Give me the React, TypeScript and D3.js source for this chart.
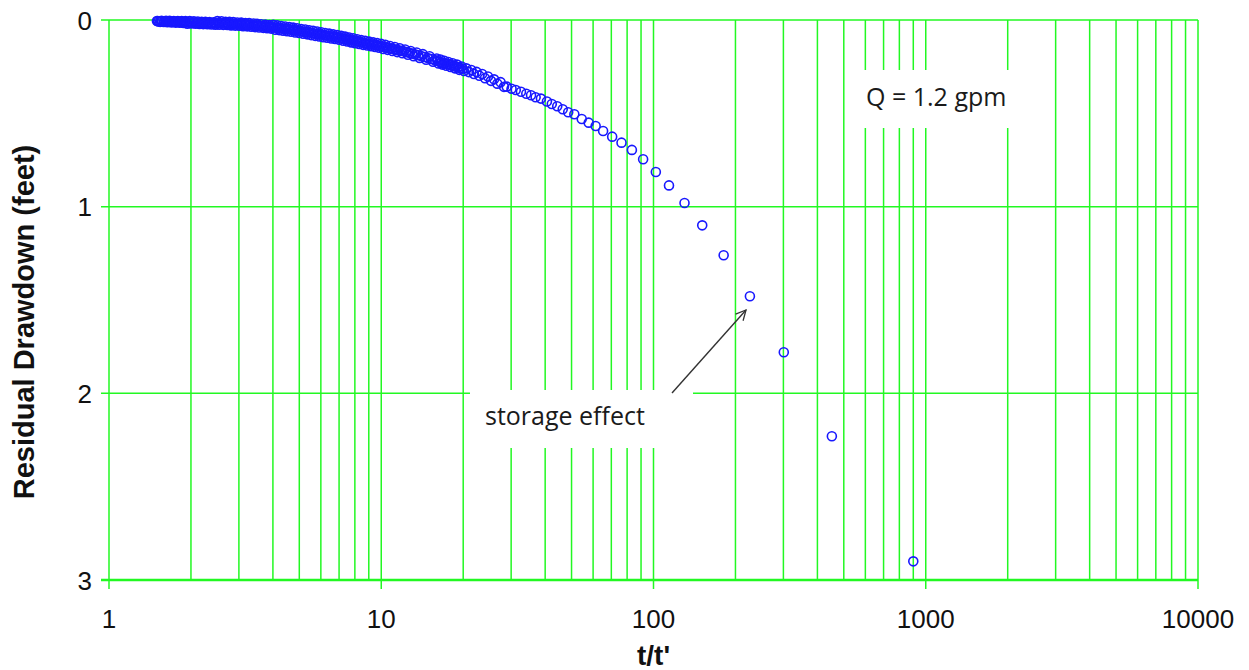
import React, { useEffect } from "react";
import * as d3 from "d3";

// t/t' (ratio of time since pumping began to time since pumping stopped), in time order
const ratio = [
  900, 452, 301, 226, 181, 151, 130, 114, 102, 91.6, 83.3, 76.3, 70.5, 65.3, 61.3, 57.8, 54.5, 51.2,
  48.6, 46.4, 44.3, 42.3, 40.6, 38.6, 36.9, 35.5, 34.1, 32.6, 31.2, 30.1, 28.9,
  28.24, 27.44, 26.69, 25.97, 25.3, 24.66, 24.05, 23.48, 22.93, 22.4, 21.91, 21.43, 20.98, 20.54,
  20.13, 19.73, 19.35, 18.98, 18.63, 18.29, 17.96, 17.65, 17.35, 17.05, 16.77, 16.5, 16.24, 15.98,
  15.5, 15.05, 14.62, 14.22, 13.84, 13.49, 13.15, 12.83, 12.53, 12.24, 11.96, 11.7, 11.45, 11.22,
  10.99, 10.77, 10.56, 10.36, 10.17, 9.99,
  9.82, 9.66, 9.5, 9.34, 9.18, 9.03, 8.88, 8.73, 8.58, 8.44, 8.3, 8.16, 8.02, 7.89, 7.76, 7.63, 7.5,
  7.37, 7.25, 7.13, 7.01, 6.89, 6.77, 6.66, 6.55, 6.44, 6.33, 6.22, 6.12, 6.02, 5.92, 5.82, 5.72,
  5.62, 5.53, 5.44, 5.35, 5.26, 5.17, 5.08, 5.0, 4.91, 4.83, 4.75, 4.67, 4.59, 4.51, 4.44, 4.36,
  4.29, 4.22, 4.15, 4.08, 4.01, 3.94, 3.88, 3.81, 3.75, 3.69, 3.62, 3.56, 3.5, 3.44, 3.39, 3.33,
  3.27, 3.22, 3.17, 3.11, 3.06, 3.01, 2.96, 2.91, 2.86, 2.81, 2.77, 2.72, 2.68, 2.63, 2.59, 2.54,
  2.5, 2.46, 2.42, 2.38, 2.34, 2.3, 2.26, 2.22, 2.19, 2.15, 2.12, 2.08, 2.05, 2.01, 1.98, 1.94,
  1.91, 1.88, 1.85, 1.82, 1.79, 1.76, 1.73, 1.7, 1.67, 1.64, 1.62, 1.59, 1.56, 1.54, 1.51, 1.5,
];

// residual drawdown (feet), same order
const drawdown = [
  2.9, 2.23, 1.78, 1.48, 1.26, 1.1, 0.98, 0.886, 0.814, 0.746, 0.696, 0.657, 0.625, 0.595, 0.568,
  0.55, 0.53, 0.505, 0.494, 0.478, 0.462, 0.45, 0.437, 0.421, 0.414, 0.403, 0.395, 0.384, 0.375,
  0.368, 0.357,
  0.358, 0.333, 0.341, 0.318, 0.326, 0.303, 0.312, 0.289, 0.299, 0.278, 0.289, 0.268, 0.279, 0.259,
  0.273, 0.249, 0.267, 0.239, 0.259, 0.232, 0.252, 0.225, 0.245, 0.218, 0.239, 0.212, 0.233, 0.206,
  0.224, 0.194, 0.213, 0.183, 0.203, 0.174, 0.194, 0.166, 0.186, 0.158, 0.178, 0.151, 0.172, 0.145,
  0.166, 0.139, 0.16, 0.133, 0.155, 0.128,
  0.149, 0.124, 0.145, 0.12, 0.141, 0.116, 0.137, 0.112, 0.133, 0.108, 0.128, 0.103, 0.124, 0.098,
  0.12, 0.094, 0.115, 0.089, 0.111, 0.085, 0.106, 0.081, 0.102, 0.077, 0.099, 0.073, 0.095, 0.07,
  0.092, 0.066, 0.088, 0.062, 0.085, 0.058, 0.081, 0.055, 0.077, 0.051, 0.074, 0.048, 0.07, 0.044,
  0.067, 0.041, 0.063, 0.038, 0.06, 0.035, 0.057, 0.032, 0.054, 0.029, 0.052, 0.026, 0.046, 0.027,
  0.044, 0.025, 0.042, 0.023, 0.04, 0.021, 0.038, 0.019, 0.036, 0.017, 0.034, 0.016, 0.033, 0.014,
  0.031, 0.013, 0.03, 0.011, 0.029, 0.01, 0.027, 0.009, 0.026, 0.007, 0.025, 0.006, 0.025, 0.012,
  0.024, 0.011, 0.023, 0.01, 0.022, 0.009, 0.021, 0.008, 0.02, 0.007, 0.019, 0.006, 0.02, 0.006,
  0.016, 0.005, 0.015, 0.005, 0.014, 0.005, 0.013, 0.004, 0.012, 0.004, 0.011, 0.004, 0.01, 0.005,
  0.005,
];

// further readings in the late (dense) part of recovery, t/t' < 20
const ratioLate = [
  19.93, 19.54, 19.16, 18.8, 18.46, 18.12, 17.8, 17.5, 17.2, 16.91, 16.63, 16.37, 16.11, 15.74,
  15.27, 14.83, 14.42, 14.03, 13.66, 13.32, 12.99, 12.68, 12.38, 12.1, 11.83, 11.57, 11.33, 11.1,
  10.88, 10.66, 10.46, 10.26, 10.08,
  9.9, 9.74, 9.58, 9.42, 9.26, 9.1, 8.95, 8.8, 8.65, 8.51, 8.37, 8.23, 8.09, 7.95, 7.82, 7.69, 7.56,
  7.43, 7.31, 7.19, 7.07, 6.95, 6.83, 6.71, 6.6, 6.49, 6.38, 6.27, 6.17, 6.07, 5.97, 5.87, 5.77,
  5.67, 5.57, 5.48, 5.39, 5.3, 5.21, 5.12, 5.04, 4.95, 4.87, 4.79, 4.71, 4.63, 4.55, 4.47, 4.4,
  4.32, 4.25, 4.18, 4.11, 4.04, 3.97, 3.91, 3.84, 3.78, 3.72, 3.65, 3.59, 3.53, 3.47, 3.41, 3.36,
  3.3, 3.24, 3.19, 3.14, 3.08, 3.03, 2.98, 2.93, 2.88, 2.83, 2.79, 2.74, 2.7, 2.65, 2.61, 2.56,
  2.52, 2.48, 2.44, 2.4, 2.36, 2.32, 2.28, 2.24, 2.2, 2.17, 2.13, 2.1, 2.06, 2.03, 1.99, 1.96,
  1.92, 1.89, 1.86, 1.83, 1.8, 1.77, 1.74, 1.71, 1.68, 1.65, 1.63, 1.6, 1.57, 1.55, 1.52, 1.505,
];

const drawdownLate = [
  0.261, 0.258, 0.253, 0.249, 0.246, 0.242, 0.239, 0.235, 0.232, 0.229, 0.226, 0.223, 0.22, 0.215,
  0.209, 0.204, 0.198, 0.193, 0.189, 0.184, 0.18, 0.176, 0.172, 0.168, 0.165, 0.162, 0.159, 0.156,
  0.153, 0.15, 0.147, 0.144, 0.142,
  0.139, 0.137, 0.135, 0.133, 0.131, 0.129, 0.127, 0.125, 0.123, 0.121, 0.118, 0.116, 0.114, 0.111,
  0.109, 0.107, 0.105, 0.102, 0.1, 0.098, 0.096, 0.094, 0.092, 0.09, 0.088, 0.086, 0.084, 0.083,
  0.081, 0.079, 0.077, 0.075, 0.074, 0.072, 0.07, 0.068, 0.066, 0.064, 0.063, 0.061, 0.059, 0.057,
  0.056, 0.054, 0.052, 0.051, 0.049, 0.048, 0.046, 0.045, 0.043, 0.042, 0.041, 0.039, 0.036, 0.037,
  0.036, 0.035, 0.034, 0.033, 0.032, 0.031, 0.03, 0.029, 0.028, 0.027, 0.026, 0.025, 0.025, 0.024,
  0.023, 0.022, 0.022, 0.021, 0.02, 0.02, 0.019, 0.018, 0.018, 0.017, 0.016, 0.016, 0.016, 0.019,
  0.018, 0.018, 0.017, 0.017, 0.016, 0.016, 0.015, 0.015, 0.014, 0.014, 0.013, 0.013, 0.013, 0.013,
  0.011, 0.011, 0.01, 0.01, 0.01, 0.01, 0.009, 0.009, 0.008, 0.008, 0.008, 0.008, 0.007, 0.008,
];

const xTicks = [1, 10, 100, 1000, 10000];
const yTicks = [0, 1, 2, 3];

const W = 1249, H = 670;
const GRID = "#22f822";

export default function App() {
  useEffect(() => {
    document.body.style.margin = "0";
  }, []);

  const x = d3.scaleLog().domain([1, 10000]).range([109, 1198]);
  const y = d3.scaleLinear().domain([0, 3]).range([20, 580]);
  const minor: number[] = [];
  xTicks.slice(0, -1).forEach((d) => d3.range(1, 10).forEach((k) => minor.push(d * k)));
  minor.push(10000);
  const pts = ratio.map((r, i) => ({ r, s: drawdown[i] }))
    .concat(ratioLate.map((r, i) => ({ r, s: drawdownLate[i] })))
    .filter((p) => p.s !== undefined);

  return (
    <svg width={W} height={H} style={{ display: "block", background: "#fff" }}>
      <defs>
        <marker id="ah" viewBox="0 0 12 12" refX="11" refY="6" markerWidth="12" markerHeight="12"
          markerUnits="userSpaceOnUse" orient="auto">
          <path d="M1,1 L11,6 L1,11" fill="none" stroke="#333" strokeWidth="1.3" />
        </marker>
      </defs>
      {/* grid */}
      {minor.map((d) => (
        <line key={"v" + d} x1={x(d)} x2={x(d)} y1={y(0)} y2={y(3)} stroke={GRID} strokeWidth={1.5} />
      ))}
      {yTicks.map((d) => (
        <line key={"h" + d} x1={x(1) - 8} x2={x(10000)} y1={y(d)} y2={y(d)} stroke={GRID}
          strokeWidth={d === 3 ? 2.4 : 1.5} />
      ))}
      {xTicks.map((d) => (
        <line key={"t" + d} x1={x(d)} x2={x(d)} y1={y(3)} y2={y(3) + 9} stroke={GRID} strokeWidth={1.5} />
      ))}
      {/* annotation boxes */}
      <rect x={850} y={70} width={165} height={58} fill="#fff" />
      <rect x={470} y={390} width={223} height={58} fill="#fff" />
      {/* points */}
      {pts.map((p, i) => (
        <circle key={i} cx={x(p.r)} cy={y(p.s)} r={4.5} fill="none" stroke="#1818ff" strokeWidth={1.6} />
      ))}
      {/* axis tick labels */}
      <g fontFamily="'Liberation Sans', Arial, sans-serif" fontSize={26} fill="#111">
        {xTicks.map((d) => (
          <text key={d} x={x(d)} y={628} textAnchor="middle">{d}</text>
        ))}
        {yTicks.map((d) => (
          <text key={d} x={92} y={y(d) + 9.5} textAnchor="end">{d}</text>
        ))}
      </g>
      <text x={x(100)} y={665} textAnchor="middle" fontFamily="'Liberation Sans', Arial, sans-serif"
        fontWeight="bold" fontSize={28} fill="#111">t/t'</text>
      <text transform={`translate(34,322) rotate(-90)`} textAnchor="middle"
        fontFamily="'Liberation Sans', Arial, sans-serif" fontWeight="bold" fontSize={29} fill="#111">
        Residual Drawdown (feet)
      </text>
      {/* annotations */}
      <g fontFamily="'Open Sans', sans-serif" fontSize={25} fill="#1a1a1a">
        <text x={866} y={106}>Q = 1.2 gpm</text>
        <text x={485} y={425}>storage effect</text>
      </g>
      <line x1={672} y1={393} x2={746} y2={310} stroke="#333" strokeWidth={1.4} markerEnd="url(#ah)" />
    </svg>
  );
}
